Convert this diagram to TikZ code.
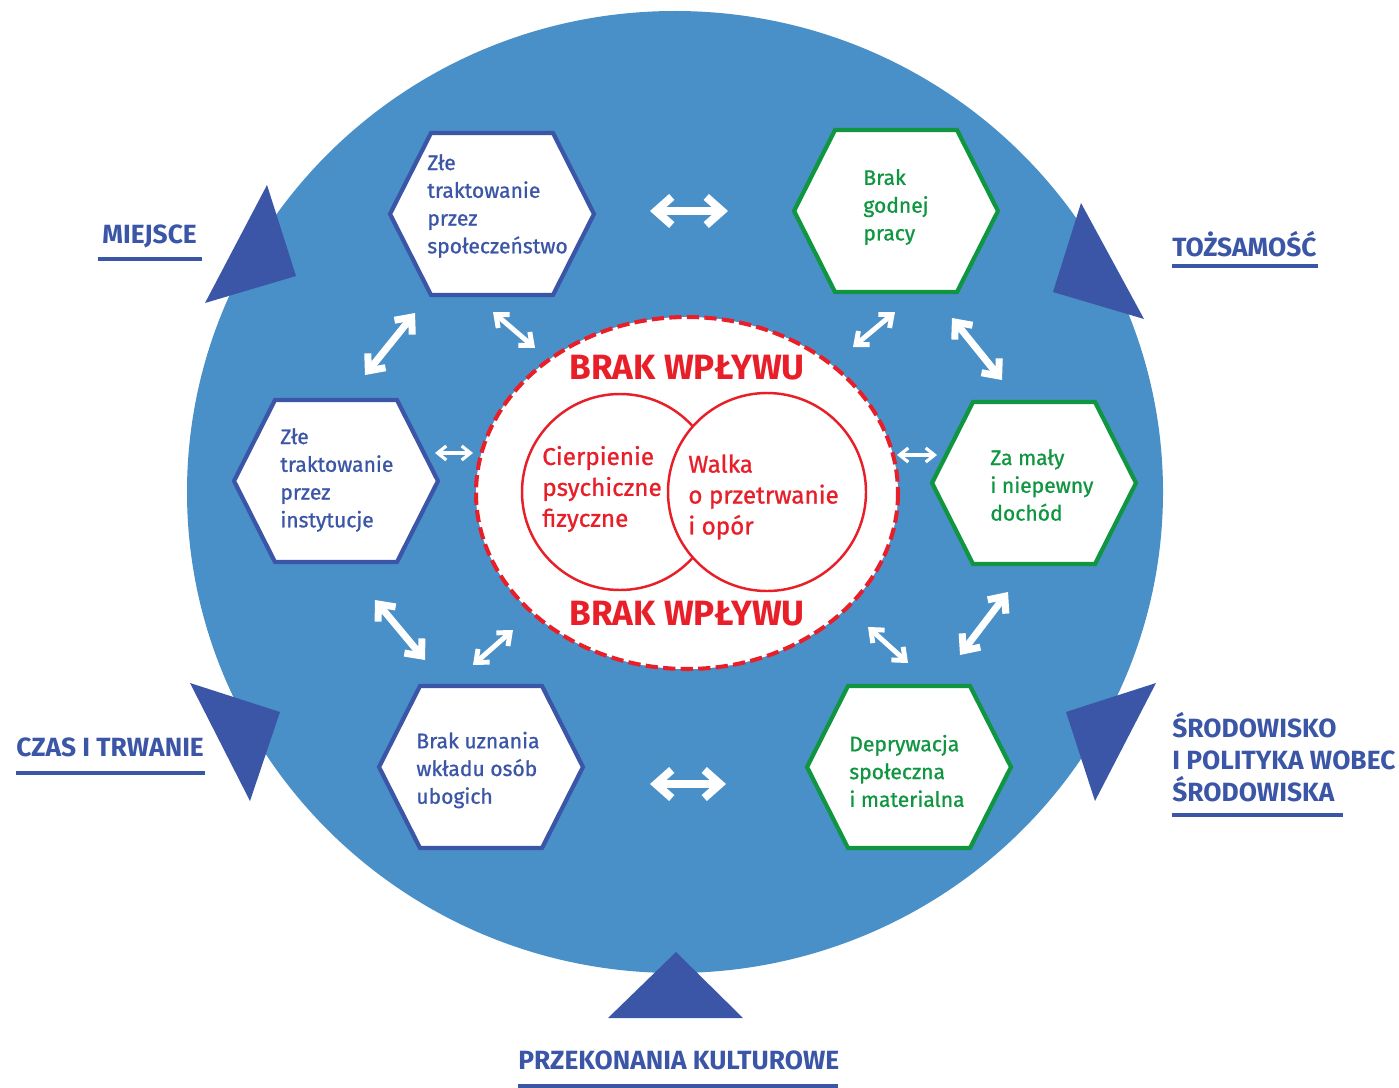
\documentclass[tikz,border=0pt]{standalone}
\usepackage{fontspec}
\setmainfont{Fira Sans}
\newfontfamily\pogrub{Fira Sans}[FakeBold=0.9]
\usetikzlibrary{arrows.meta}

\definecolor{kolko}{RGB}{74,144,200}
\definecolor{granat}{RGB}{59,86,166}
\definecolor{zielony}{RGB}{16,150,64}
\definecolor{czerwony}{RGB}{232,30,40}

\tikzset{
  pics/szesciokat/.style={code={
    \filldraw[fill=white, line width=2.4pt] (-102,0) -- (-61,-81) -- (61,-81) -- (102,0) -- (61,81) -- (-61,81) -- cycle;
  }},
  tekstszesc/.style={anchor=west, align=left, inner sep=0pt, font=\pogrub\fontsize{12}{15.8}\selectfont},
  tekstsrodek/.style={anchor=west, align=left, inner sep=0pt, text=czerwony, font=\pogrub\fontsize{13.8}{17.6}\selectfont},
  brak/.style={inner sep=0pt, text=czerwony, font=\bfseries\fontsize{20}{22}\selectfont},
  etykieta/.style={anchor=west, align=left, inner sep=0pt, text=granat, font=\bfseries\fontsize{15}{18}\selectfont},
  podkreslenie/.style={granat, line width=2.8pt},
  trojkat/.style={fill=granat},
  duzastrz/.style={white, line width=4.5pt, {Straight Barb[sharp, length=9pt, width=16pt]}-{Straight Barb[sharp, length=9pt, width=16pt]}},
  sredniastrz/.style={white, line width=4pt, {Straight Barb[sharp, length=7.5pt, width=13pt]}-{Straight Barb[sharp, length=7.5pt, width=13pt]}},
  malastrz/.style={white, line width=2.8pt, {Straight Barb[sharp, length=6pt, width=10pt]}-{Straight Barb[sharp, length=6pt, width=10pt]}},
  mikrostrz/.style={white, line width=1.8pt, {Straight Barb[sharp, length=5pt, width=8pt]}-{Straight Barb[sharp, length=5pt, width=8pt]}}
}

\begin{document}
\begin{tikzpicture}[x=0.02cm, y=-0.02cm]
	\useasboundingbox (0,0) rectangle (1399,1088);
	
	%duze kolo
	\fill[kolko] (675,492) ellipse [x radius=488, y radius=481];
	
	%trojkaty
	\fill[trojkat] (267,185) -- (205,303) -- (296,276) -- cycle; %miejsce
	\fill[trojkat] (1081,203) -- (1053,292) -- (1144,319) -- cycle; %tozsamosc
	\fill[trojkat] (190,683) -- (280,712) -- (250,801) -- cycle; %czas
	\fill[trojkat] (1156,683) -- (1066,712) -- (1095,801) -- cycle; %srodowisko
	\fill[trojkat] (676,952) -- (608,1018) -- (743,1018) -- cycle; %przekonania
	
	%szesciokaty
	\pic[color=granat] at (492,214) {szesciokat};
	\pic[color=granat] at (336,481) {szesciokat};
	\pic[color=granat] at (481,767) {szesciokat};
	\pic[color=zielony] at (896,211) {szesciokat};
	\pic[color=zielony] at (1034,483) {szesciokat};
	\pic[color=zielony] at (909,767) {szesciokat};
	
	\node[tekstszesc, text=granat] (spol) at (427,206) {Złe\\traktowanie\\przez\\społeczeństwo};
	\node[tekstszesc, text=granat] (inst) at (280,480) {Złe\\traktowanie\\przez\\instytucje};
	\node[tekstszesc, text=granat] (uzn) at (416,770) {Brak uznania\\wkładu osób\\ubogich};
	\node[tekstszesc, text=zielony] (praca) at (863,207) {Brak\\godnej\\pracy};
	\node[tekstszesc, text=zielony] (doch) at (990,485) {Za mały\\i niepewny\\dochód};
	\node[tekstszesc, text=zielony] (depr) at (849,771) {Deprywacja\\społeczna\\i materialna};
	
	%srodek
	\draw[czerwony, line width=2.3pt, dash pattern=on 7pt off 3pt, fill=white] (687,493) ellipse [x radius=211, y radius=176];
	\draw[czerwony, line width=1.4pt] (620,492) circle [radius=98];
	\draw[czerwony, line width=1.4pt, fill=white] (767,492) circle [radius=99];
	\node[tekstsrodek] (cierp) at (542,489) {Cierpienie\\psychiczne\\fizyczne};
	\node[tekstsrodek] (walka) at (688,497) {Walka\\o przetrwanie\\i opór};
	\node[brak] (brakG) at (687,368) {BRAK WPŁYWU};
	\node[brak] (brakD) at (687,614) {BRAK WPŁYWU};
	
	%strzalki
	\foreach \n/\xa/\ya/\xb/\yb/\s in {
		gora/650/211/728/211/duzastrz,
		dol/650/784/726/784/duzastrz,
		lz/365/375/415/313/sredniastrz,
		pz/952/318/1002/380/sredniastrz,
		ldz/375/600/425/660/sredniastrz,
		pdz/960/655/1008/592/sredniastrz,
		lw/493/312/535/348/malastrz,
		pw/853/347/895/312/malastrz,
		ldw/473/665/513/630/malastrz,
		pdw/868/627/908/663/malastrz,
		ls/435/453/473/453/mikrostrz,
		ps/897/455/937/455/mikrostrz}{
		\coordinate (\n-a) at (\xa,\ya);
		\coordinate (\n-b) at (\xb,\yb);
		\draw[\s] (\n-a) -- (\n-b);
	}
	
	%etykiety
	\node[etykieta] (miejsce) at (102,236) {MIEJSCE};
	\draw[podkreslenie] (98,259) -- (202,259);
	\node[etykieta] (tozs) at (1172,244) {TOŻSAMOŚĆ};
	\draw[podkreslenie] (1172,266) -- (1318,266);
	\node[etykieta] (czas) at (16,747) {CZAS I TRWANIE};
	\draw[podkreslenie] (16,773) -- (205,773);
	\node[etykieta] (srod) at (1172,757) {ŚRODOWISKO\\I POLITYKA WOBEC\\ŚRODOWISKA};
	\draw[podkreslenie] (1172,815) -- (1343,815);
	\node[etykieta] (przek) at (518,1060) {PRZEKONANIA KULTUROWE};
	\draw[podkreslenie] (518,1086) -- (838,1086);
	
\end{tikzpicture}
\end{document}
